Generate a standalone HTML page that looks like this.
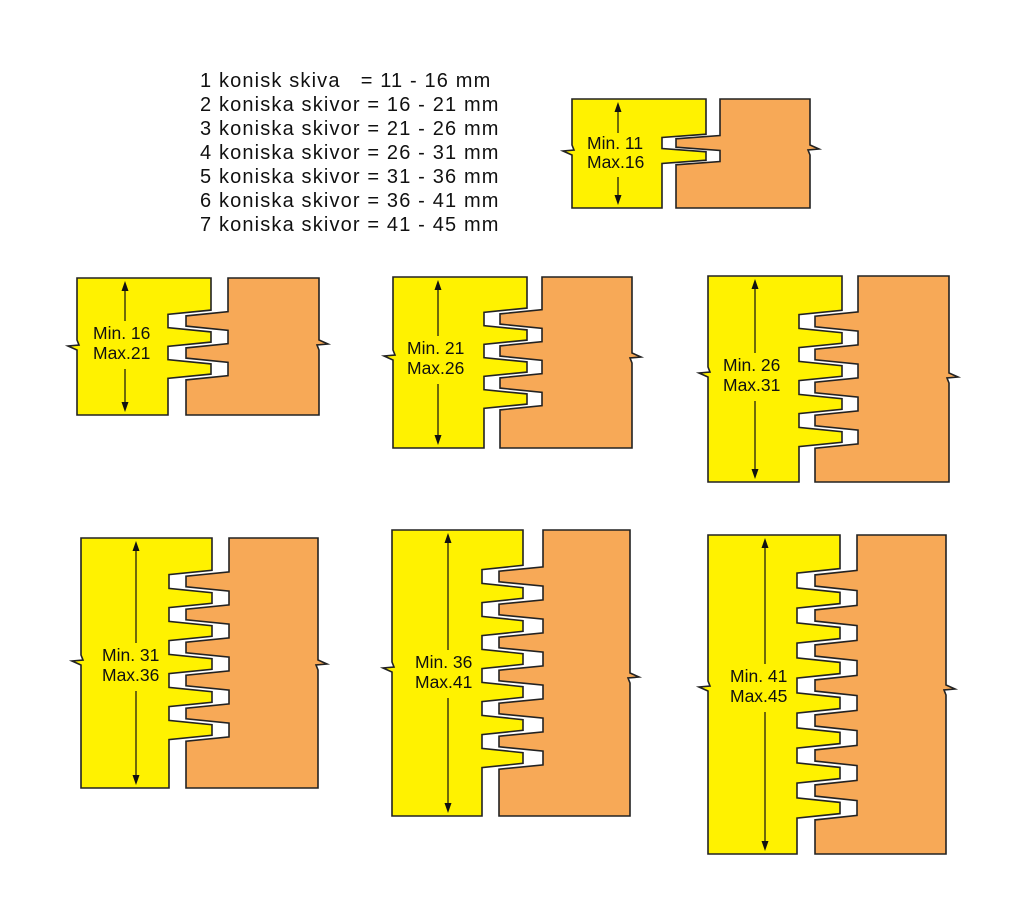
<!DOCTYPE html>
<html><head><meta charset="utf-8"><style>
html,body{margin:0;padding:0;background:#fff;width:1024px;height:916px;overflow:hidden}
svg{display:block}
text{font-family:"Liberation Sans",sans-serif;fill:#111}
</style></head><body>
<svg id="s" width="1024" height="916" xmlns="http://www.w3.org/2000/svg">
<g font-size="20" letter-spacing="1.15" xml:space="preserve">
<text x="200" y="87" xml:space="preserve">1 konisk skiva   = 11 - 16 mm</text>
<text x="200" y="111">2 koniska skivor = 16 - 21 mm</text>
<text x="200" y="135">3 koniska skivor = 21 - 26 mm</text>
<text x="200" y="159">4 koniska skivor = 26 - 31 mm</text>
<text x="200" y="183">5 koniska skivor = 31 - 36 mm</text>
<text x="200" y="207">6 koniska skivor = 36 - 41 mm</text>
<text x="200" y="231">7 koniska skivor = 41 - 45 mm</text>
</g>
<g id="shapes"></g>
<g font-size="17.5">
<text x="587" y="149">Min. 11</text><text x="587" y="168">Max.16</text>
<text x="93" y="339">Min. 16</text><text x="93" y="359">Max.21</text>
<text x="407" y="354">Min. 21</text><text x="407" y="374">Max.26</text>
<text x="723" y="371">Min. 26</text><text x="723" y="391">Max.31</text>
<text x="102" y="661">Min. 31</text><text x="102" y="681">Max.36</text>
<text x="415" y="668">Min. 36</text><text x="415" y="688">Max.41</text>
<text x="730" y="682">Min. 41</text><text x="730" y="702">Max.45</text>
</g>
</svg>
<script>
var D=[
 {n:1,L:572,T:99,B:208,Yr:706,Yi:662,Ol:676,Oi:720,R:810,c0:130,h:13,nl:150,nr:150,ax:618,ty:157,th:40},
 {n:2,L:77,T:278,B:415,Yr:211,Yi:168,Ol:186,Oi:228,R:319,c0:305,h:16,nl:345,nr:345,ax:125,ty:347,th:44},
 {n:3,L:393,T:277,B:448,Yr:527,Yi:484,Ol:500,Oi:542,R:632,c0:303,h:16,nl:355,nr:358,ax:438,ty:362,th:44},
 {n:4,L:708,T:276,B:482,Yr:842,Yi:799,Ol:815,Oi:858,R:949,c0:305,h:16.5,nl:372,nr:378,ax:755,ty:379,th:44},
 {n:5,L:81,T:538,B:788,Yr:212,Yi:169,Ol:186,Oi:229,R:318,c0:565,h:16.5,nl:660,nr:665,ax:136,ty:669,th:44},
 {n:6,L:392,T:530,B:816,Yr:523,Yi:482,Ol:499,Oi:543,R:630,c0:560,h:16.5,nl:667,nr:678,ax:448,ty:676,th:44},
 {n:7,L:708,T:535,B:854,Yr:840,Yi:797,Ol:815,Oi:857,R:946,c0:563,h:17.5,nl:686,nr:690,ax:765,ty:690,th:44}
];
var out="";
D.forEach(function(d){
 var ht=d.h*0.32, ht2=d.h*0.42, p=[], q=[];
 p.push([d.L,d.T],[d.Yr,d.T],[d.Yr,d.c0+ht]);
 for(var i=0;i<d.n;i++){
  var co=d.c0+(2*i+1)*d.h, cy=d.c0+(2*i+2)*d.h;
  p.push([d.Yi,co-ht2],[d.Yi,co+ht2],[d.Yr,cy-ht],[d.Yr,cy+ht]);
 }
 var cb=d.c0+(2*d.n+1)*d.h;
 p.push([d.Yi,cb-ht2],[d.Yi,d.B],[d.L,d.B],[d.L,d.nl+5],[d.L-9,d.nl+1],[d.L+2,d.nl],[d.L,d.nl-5]);
 q.push([d.Oi,d.T],[d.R,d.T],[d.R,d.nr-5],[d.R+9,d.nr-1],[d.R-2,d.nr],[d.R,d.nr+5],[d.R,d.B],[d.Ol,d.B],[d.Ol,cb-ht]);
 for(var i=d.n-1;i>=0;i--){
  var co=d.c0+(2*i+1)*d.h, cy=d.c0+(2*i+2)*d.h;
  q.push([d.Oi,cy+ht2],[d.Oi,cy-ht2],[d.Ol,co+ht],[d.Ol,co-ht]);
 }
 q.push([d.Oi,d.c0+ht2]);
 var f=function(a){return a.map(function(v){return v[0].toFixed(1)+","+v[1].toFixed(1)}).join(" ")};
 out+='<polygon points="'+f(p)+'" fill="#fff200" stroke="#222" stroke-width="1.6"/>';
 out+='<polygon points="'+f(q)+'" fill="#f7a957" stroke="#222" stroke-width="1.6"/>';
 var t1=d.ty-d.th/2-4, t2=d.ty+d.th/2;
 out+='<line x1="'+d.ax+'" y1="'+(d.T+8)+'" x2="'+d.ax+'" y2="'+t1+'" stroke="#111" stroke-width="1.2"/>';
 out+='<line x1="'+d.ax+'" y1="'+t2+'" x2="'+d.ax+'" y2="'+(d.B-8)+'" stroke="#111" stroke-width="1.2"/>';
 out+='<polygon points="'+(d.ax-3.5)+','+(d.T+13)+' '+(d.ax+3.5)+','+(d.T+13)+' '+d.ax+','+(d.T+3)+'" fill="#111"/>';
 out+='<polygon points="'+(d.ax-3.5)+','+(d.B-13)+' '+(d.ax+3.5)+','+(d.B-13)+' '+d.ax+','+(d.B-3)+'" fill="#111"/>';
});
document.getElementById("shapes").innerHTML=out;
</script>
</body></html>
